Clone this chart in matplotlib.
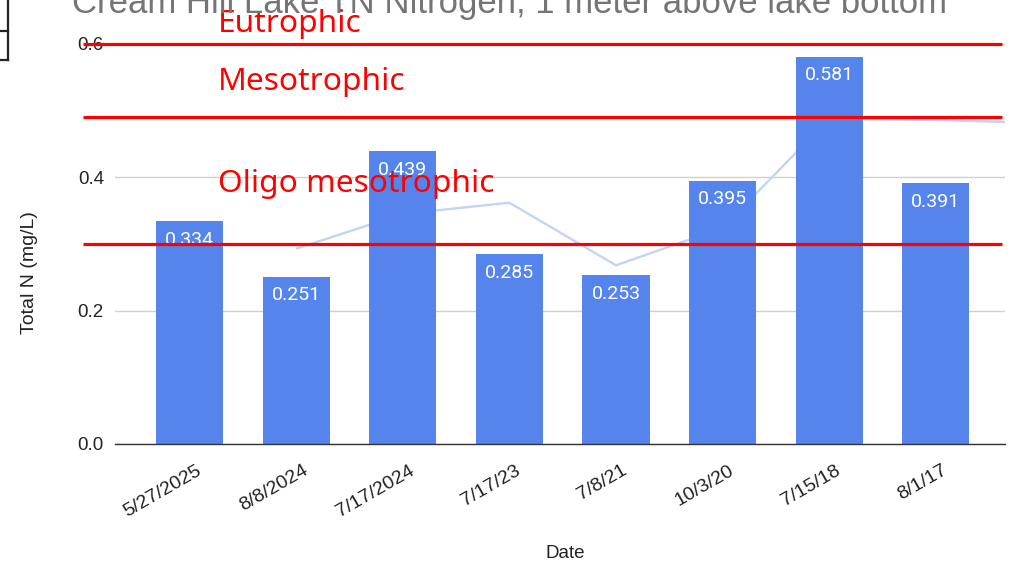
import matplotlib.pyplot as plt
import matplotlib.transforms as mtransforms
from matplotlib.lines import Line2D
import numpy as np

# sample dates (newest first) and total nitrogen, mg/L
dates = ['5/27/2025', '8/8/2024', '7/17/2024', '7/17/23', '7/8/21', '10/3/20', '7/15/18', '8/1/17']
total_n = [0.334, 0.251, 0.439, 0.285, 0.253, 0.395, 0.581, 0.391]

# light trend line (starts at the second date, runs out to the right edge)
trend_x = [1, 2, 3, 4, 5, 6, 7, 7.65]
trend_y = [0.293, 0.345, 0.362, 0.268, 0.324, 0.488, 0.486, 0.483]

# trophic state boundaries and labels
levels = [0.6, 0.49, 0.3]
level_names = ['Eutrophic', 'Mesotrophic', 'Oligo mesotrophic']
name_y = [0.618, 0.531, 0.378]

plt.rcParams['font.family'] = ['Liberation Sans', 'DejaVu Sans']

fig = plt.figure(figsize=(10.19, 5.65), dpi=100)
ax = fig.add_axes([115/1019, 1-444/565, 890/1019, 400/565])

x = np.arange(len(dates))
ax.plot(trend_x, trend_y, color='#c2d4f7', lw=1.7, zorder=1, solid_capstyle='butt')
bars = ax.bar(x, total_n, width=0.63, color='#5585ec', zorder=2)

for xi, v in zip(x, total_n):
    ax.annotate(f'{v:.3f}', (xi, v), xytext=(0, -13.5), textcoords='offset points',
                ha='center', va='center', color='white', fontsize=14,
                family=['Roboto', 'DejaVu Sans'], zorder=3)

ax.set_xlim(-0.7, 7.65)
ax.set_ylim(0, 0.6)
ax.set_yticks([0.0, 0.2, 0.4, 0.6])
ax.set_yticklabels(['0.0', '0.2', '0.4', '0.6'])
ax.grid(axis='y', color='#d0d0d0', lw=1.0, zorder=0)
ax.set_axisbelow(True)
for s in ['top', 'right', 'left']:
    ax.spines[s].set_visible(False)
ax.spines['bottom'].set_color('#333333')
ax.spines['bottom'].set_linewidth(1.0)
ax.tick_params(length=0, labelsize=13.5, colors='#222222')
ax.tick_params(axis='y', pad=8)

ax.set_xticks(x)
ax.set_xticklabels(dates, rotation=30, ha='right', rotation_mode='anchor', fontsize=14)
shift = mtransforms.ScaledTranslation(6/100, -13/100, fig.dpi_scale_trans)
for lab in ax.get_xticklabels():
    lab.set_transform(lab.get_transform() + shift)

ax.set_xlabel('Date', fontsize=13.5, color='#222222', va='center')
ax.xaxis.set_label_coords((565-115)/890, (444-553)/400)
ax.set_ylabel('Total N (mg/L)', fontsize=14, color='#222222', va='center')
ax.yaxis.set_label_coords((29-115)/890, (444-273)/400)

# boundary lines and names
for lv in levels:
    ax.hlines(lv, -1.0, 7.62, color='#ff0000', lw=2.3, clip_on=False, zorder=4)
for nm, ny in zip(level_names, name_y):
    ax.text(0.265, ny, nm, color='#ff0000', fontsize=22.8, va='baseline', ha='left',
            family=['Noto Sans', 'DejaVu Sans'], clip_on=False, zorder=5)

fig.text(0.5, 1-13/565, 'Cream Hill Lake TN Nitrogen, 1 meter above lake bottom',
         ha='center', va='baseline', fontsize=25, color='#757575')

# small bordered cells at the top-left corner
for (xs, ys) in [([8, 8], [0, 60]), ([0, 8], [31, 31]), ([0, 8], [60, 60])]:
    fig.add_artist(Line2D([v/1019 for v in xs], [1-v/565 for v in ys],
                          color='#222222', lw=1.6, transform=fig.transFigure))

fig.savefig('out.png', dpi=100)
